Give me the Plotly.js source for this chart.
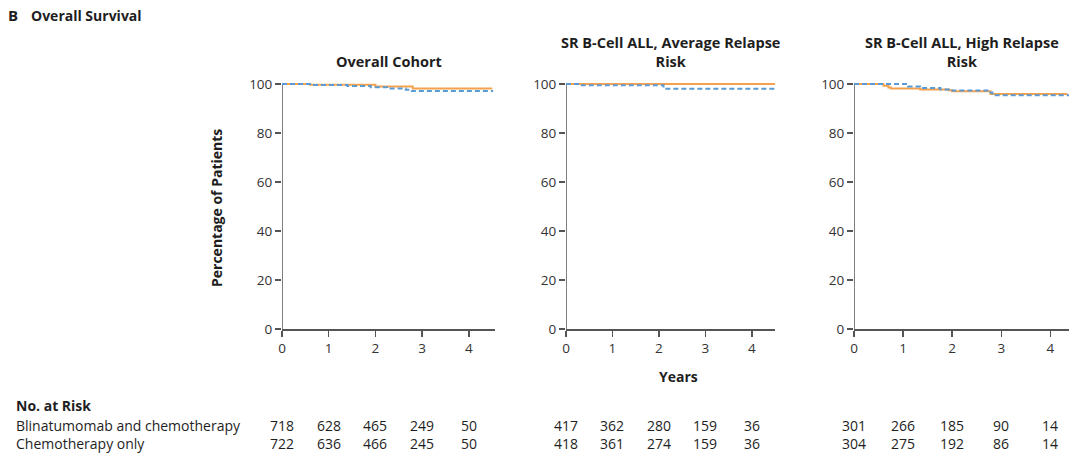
<!DOCTYPE html>
<html>
<head>
<meta charset="utf-8">
<script src="https://cdn.plot.ly/plotly-3.0.1.min.js"></script>
<style>
html,body{margin:0;padding:0;background:#fff;}
#chart{width:1080px;height:458px;}
</style>
</head>
<body>
<div id="chart"></div>
<script>
// ---- Data ----
const yearTicks = [0, 1, 2, 3, 4];
const pctTicks = [0, 20, 40, 60, 80, 100];
const panelTitles = ["Overall Cohort", "SR B-Cell ALL, Average Relapse<br>Risk", "SR B-Cell ALL, High Relapse<br>Risk"];
const seriesNames = ["Blinatumomab and chemotherapy", "Chemotherapy only"];

// Overall cohort
const p1BlinaT = [0, 0.6, 2.0, 2.8, 4.5];
const p1BlinaS = [100, 99.7, 99.0, 98.2, 98.2];
const p1ChemoT = [0, 0.6, 1.4, 1.9, 2.25, 2.65, 2.78, 4.52];
const p1ChemoS = [100, 99.6, 99.2, 98.7, 98.2, 97.7, 97.1, 97.1];
// Average relapse risk
const p2BlinaT = [0, 4.5];
const p2BlinaS = [100, 100];
const p2ChemoT = [0, 0.3, 2.1, 4.5];
const p2ChemoS = [100, 99.5, 98.1, 98.1];
// High relapse risk
const p3BlinaT = [0, 0.6, 0.7, 0.75, 1.35, 1.93, 2.0, 2.78, 4.35];
const p3BlinaS = [100, 99.3, 98.6, 98.2, 97.8, 97.4, 97.0, 95.9, 95.9];
const p3ChemoT = [0, 1.1, 1.35, 1.76, 1.95, 2.75, 2.82, 4.38];
const p3ChemoS = [100, 99.0, 98.4, 97.8, 97.3, 96.5, 95.4, 95.4];

// Numbers at risk
const p1RiskBlina = [718, 628, 465, 249, 50];
const p1RiskChemo = [722, 636, 466, 245, 50];
const p2RiskBlina = [417, 362, 280, 159, 36];
const p2RiskChemo = [418, 361, 274, 159, 36];
const p3RiskBlina = [301, 266, 185, 90, 14];
const p3RiskChemo = [304, 275, 192, 86, 14];

// ---- Styling ----
const FONT = "Open Sans, Noto Sans, sans-serif";
const ORANGE = "#F5A24E";
const BLUE = "#5B9BD5";
const AXIS = "#555555";
const TXT = "#1e1e1e";
const W = 1080, H = 458;
const px = v => v / W;
const py = v => 1 - v / H;

const panels = [
  {bt: p1BlinaT, bs: p1BlinaS, ct: p1ChemoT, cs: p1ChemoS, rb: p1RiskBlina, rc: p1RiskChemo, dom: [282, 495], xmax: 4.56},
  {bt: p2BlinaT, bs: p2BlinaS, ct: p2ChemoT, cs: p2ChemoS, rb: p2RiskBlina, rc: p2RiskChemo, dom: [566, 775], xmax: 4.5},
  {bt: p3BlinaT, bs: p3BlinaS, ct: p3ChemoT, cs: p3ChemoS, rb: p3RiskBlina, rc: p3RiskChemo, dom: [854, 1069], xmax: 4.38}
];

const YTOP = 101.5;
const yDom = [py(329), py(84 - 1.5 * 2.45)];

const traces = [];
const layout = {
  width: W, height: H,
  margin: {l: 0, r: 0, t: 0, b: 0},
  paper_bgcolor: "#ffffff",
  plot_bgcolor: "#ffffff",
  showlegend: false,
  font: {family: FONT, color: TXT, size: 13},
  annotations: [],
  shapes: []
};

panels.forEach((p, i) => {
  const n = i === 0 ? "" : String(i + 1);
  const xa = "x" + n, ya = "y" + n;
  traces.push({
    x: p.bt, y: p.bs, xaxis: xa, yaxis: ya, type: "scatter", mode: "lines",
    name: seriesNames[0], line: {color: ORANGE, width: 2, shape: "hv"}, hoverinfo: "skip"
  });
  traces.push({
    x: p.ct, y: p.cs, xaxis: xa, yaxis: ya, type: "scatter", mode: "lines",
    name: seriesNames[1], line: {color: BLUE, width: 2, shape: "hv", dash: "5px,3px"}, hoverinfo: "skip"
  });
  layout["xaxis" + n] = {
    domain: [px(p.dom[0]), px(p.dom[1])],
    anchor: ya, range: [0, p.xmax],
    tickvals: yearTicks, ticktext: yearTicks.map(String),
    ticks: "outside", ticklen: 6, tickwidth: 1.5, tickcolor: AXIS,
    showline: true, linecolor: AXIS, linewidth: 1.5,
    showgrid: false, zeroline: false,
    tickfont: {family: FONT, size: 13.5, color: "#333"}
  };
  layout["yaxis" + n] = {
    domain: yDom, anchor: xa, range: [0, YTOP],
    tickvals: pctTicks, ticktext: pctTicks.map(String),
    ticks: "outside", ticklen: 6, tickwidth: 1.5, tickcolor: AXIS,
    showline: false, showgrid: false, zeroline: false,
    tickfont: {family: FONT, size: 13.5, color: "#333"}
  };
  layout.shapes.push({
    type: "line", xref: xa, yref: ya, x0: 0, x1: 0, y0: 0, y1: 100,
    line: {color: AXIS, width: 1.5}, layer: "below"
  });
  layout.annotations.push({
    text: "<b>" + panelTitles[i] + "</b>", xref: xa + " domain", yref: "paper",
    x: 0.5, y: py(73), xanchor: "center", yanchor: "bottom", showarrow: false,
    font: {family: FONT, size: 14.5, color: TXT}, align: "center"
  });
  yearTicks.forEach((t, k) => {
    layout.annotations.push({
      text: String(p.rb[k]), xref: xa, yref: "paper", x: t, y: py(425),
      xanchor: "center", yanchor: "middle", showarrow: false,
      font: {family: FONT, size: 14, color: TXT}
    });
    layout.annotations.push({
      text: String(p.rc[k]), xref: xa, yref: "paper", x: t, y: py(443),
      xanchor: "center", yanchor: "middle", showarrow: false,
      font: {family: FONT, size: 14, color: TXT}
    });
  });
});

const ann = layout.annotations;
ann.push({text: "<b>B</b>", xref: "paper", yref: "paper", x: px(6), y: py(15), xanchor: "left", yanchor: "middle", showarrow: false, font: {family: FONT, size: 15, color: TXT}});
ann.push({text: "<b>Overall Survival</b>", xref: "paper", yref: "paper", x: px(29), y: py(15), xanchor: "left", yanchor: "middle", showarrow: false, font: {family: FONT, size: 14, color: TXT}});
ann.push({text: "<b>Percentage of Patients</b>", xref: "paper", yref: "paper", x: px(217), y: py(208), xanchor: "center", yanchor: "middle", textangle: -90, showarrow: false, font: {family: FONT, size: 14, color: TXT}});
ann.push({text: "<b>Years</b>", xref: "paper", yref: "paper", x: px(678), y: py(376), xanchor: "center", yanchor: "middle", showarrow: false, font: {family: FONT, size: 14, color: TXT}});
ann.push({text: "<b>No. at Risk</b>", xref: "paper", yref: "paper", x: px(14), y: py(405), xanchor: "left", yanchor: "middle", showarrow: false, font: {family: FONT, size: 14, color: TXT}});
ann.push({text: seriesNames[0], xref: "paper", yref: "paper", x: px(14), y: py(425), xanchor: "left", yanchor: "middle", showarrow: false, font: {family: FONT, size: 14, color: TXT}});
ann.push({text: seriesNames[1], xref: "paper", yref: "paper", x: px(14), y: py(443), xanchor: "left", yanchor: "middle", showarrow: false, font: {family: FONT, size: 14, color: TXT}});

Plotly.newPlot("chart", traces, layout, {staticPlot: true, displayModeBar: false});
</script>
</body>
</html>
